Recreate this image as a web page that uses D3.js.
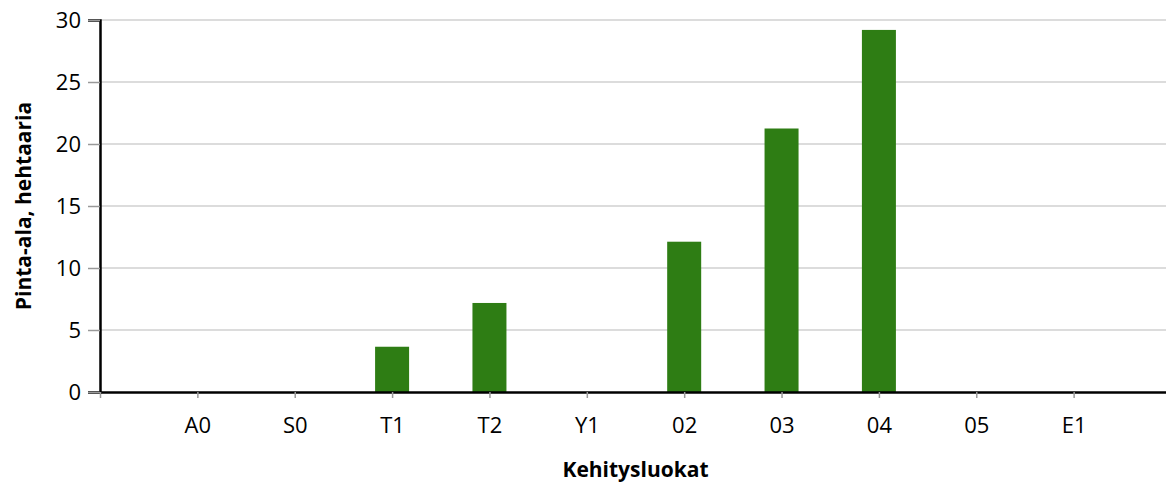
<!DOCTYPE html>
<html>
<head>
<meta charset="utf-8">
<script src="https://cdn.jsdelivr.net/npm/d3@7"></script>
<style>
  body { margin: 0; background: #fff; }
  text { font-family: "Open Sans", sans-serif; fill: #000; }
</style>
</head>
<body>
<script>
// luokat ja pinta-alat (ha)
const luokat = ["A0", "S0", "T1", "T2", "Y1", "02", "03", "04", "05", "E1"];
const pintaAla = [0, 0, 3.65, 7.18, 0, 12.12, 21.25, 29.2, 0, 0];
const yTicks = [0, 5, 10, 15, 20, 25, 30];

const width = 1166, height = 483;
const margin = { left: 100, right: -5, top: 20, bottom: 91 };

const svg = d3.select("body")
  .append("svg")
  .attr("width", width)
  .attr("height", height);

// x: positions 1..10, axis from 0 to 11
const x = d3.scaleLinear()
  .domain([0, luokat.length + 1])
  .range([margin.left, width - margin.right]);

const y = d3.scaleLinear()
  .domain([0, 30])
  .range([height - margin.bottom, margin.top]);

// gridlines
svg.append("g")
  .selectAll("line")
  .data(yTicks.filter(d => d > 0))
  .enter()
  .append("line")
  .attr("x1", margin.left)
  .attr("x2", width)
  .attr("y1", d => y(d))
  .attr("y2", d => y(d))
  .attr("stroke", "#dcdcdc")
  .attr("stroke-width", 2);

// bars
svg.append("g")
  .selectAll("rect")
  .data(pintaAla)
  .enter()
  .append("rect")
  .attr("x", (d, i) => x(i + 1) - 17)
  .attr("y", d => y(d))
  .attr("width", 34)
  .attr("height", d => y(0) - y(d))
  .attr("fill", "#2e7d14");

// y axis
const yAxis = svg.append("g")
  .attr("transform", `translate(${margin.left},0)`)
  .call(d3.axisLeft(y).tickValues(yTicks).tickSize(12).tickPadding(7));
yAxis.select(".domain").attr("stroke", "#000").attr("stroke-width", 2.5);
yAxis.selectAll(".tick line").attr("stroke", "#999").attr("stroke-width", 1.5);
yAxis.selectAll(".tick text").style("font-size", "22px").attr("dy", "0.36em");

// x axis
const xAxis = svg.append("g")
  .attr("transform", `translate(0,${y(0)})`)
  .call(d3.axisBottom(x)
    .tickValues(d3.range(0, luokat.length + 1))
    .tickFormat(d => d === 0 ? "" : luokat[d - 1])
    .tickSize(6)
    .tickPadding(19)
    .tickSizeOuter(0));
xAxis.select(".domain").attr("stroke", "#000").attr("stroke-width", 2.5);
xAxis.selectAll(".tick line").attr("stroke", "#999").attr("stroke-width", 1.5);
xAxis.selectAll(".tick text").style("font-size", "22px");

// axis titles
svg.append("text")
  .attr("x", x(5.5))
  .attr("y", 477)
  .attr("text-anchor", "middle")
  .style("font-size", "21px")
  .style("font-weight", "bold")
  .text("Kehitysluokat");

svg.append("text")
  .attr("transform", `translate(31,${(y(0) + y(30)) / 2}) rotate(-90)`)
  .attr("text-anchor", "middle")
  .style("font-size", "21px")
  .style("font-weight", "bold")
  .text("Pinta-ala, hehtaaria");
</script>
</body>
</html>
